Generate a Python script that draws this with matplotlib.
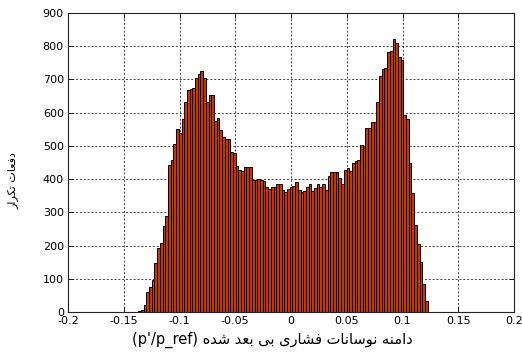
import numpy as np
import matplotlib
matplotlib.use("Agg")
import matplotlib.pyplot as plt

# Histogram of nondimensional pressure fluctuation amplitude (p'/p_ref)
bin_lo = -0.1370
bin_hi = 0.1226
counts = [
    2, 5, 21, 60, 74, 96, 148, 192, 208, 259,
    289, 442, 458, 506, 551, 540, 581, 631, 668, 671,
    673, 704, 716, 725, 703, 631, 653, 653, 576, 583,
    548, 526, 520, 522, 483, 478, 438, 428, 423, 436,
    436, 436, 398, 398, 400, 398, 393, 376, 369, 375,
    377, 384, 384, 367, 362, 370, 377, 380, 392, 367,
    362, 365, 375, 384, 364, 372, 384, 375, 384, 367,
    409, 422, 422, 422, 404, 385, 427, 432, 425, 449,
    455, 458, 503, 500, 553, 553, 571, 571, 633, 710,
    731, 733, 784, 787, 821, 809, 767, 759, 593, 580,
    448, 359, 262, 205, 151, 84, 34,
]
x_ticks = [-0.2, -0.15, -0.1, -0.05, 0, 0.05, 0.1, 0.15, 0.2]
x_tick_labels = ["-0.2", "-0.15", "-0.1", "-0.05", "0", "0.05", "0.1", "0.15", "0.2"]
y_ticks = [0, 100, 200, 300, 400, 500, 600, 700, 800, 900]

x_label_fa = "دامنه نوسانات فشاری بی بعد شده"
x_label_en = "(p'/p_ref)"
y_label_fa = "دفعات تکرار"

# Minimal Persian shaping: contextual presentation forms + visual (RTL) order
FORMS = {
    "ا": ("\uFE8D", "\uFE8E", None, None),
    "ب": ("\uFE8F", "\uFE90", "\uFE91", "\uFE92"),
    "ت": ("\uFE95", "\uFE96", "\uFE97", "\uFE98"),
    "د": ("\uFEA9", "\uFEAA", None, None),
    "ر": ("\uFEAD", "\uFEAE", None, None),
    "س": ("\uFEB1", "\uFEB2", "\uFEB3", "\uFEB4"),
    "ش": ("\uFEB5", "\uFEB6", "\uFEB7", "\uFEB8"),
    "ع": ("\uFEC9", "\uFECA", "\uFECB", "\uFECC"),
    "ف": ("\uFED1", "\uFED2", "\uFED3", "\uFED4"),
    "م": ("\uFEE1", "\uFEE2", "\uFEE3", "\uFEE4"),
    "ن": ("\uFEE5", "\uFEE6", "\uFEE7", "\uFEE8"),
    "ه": ("\uFEE9", "\uFEEA", "\uFEEB", "\uFEEC"),
    "و": ("\uFEED", "\uFEEE", None, None),
    "ی": ("\uFEEF", "\uFEF0", "\uFEF3", "\uFEF4"),
    "ک": ("\uFB8E", "\uFB8F", "\uFB90", "\uFB91"),
}


def shape_rtl(text):
    out = []
    for i, ch in enumerate(text):
        f = FORMS.get(ch)
        if f is None:
            out.append(ch)
            continue
        prev = text[i - 1] if i > 0 else ""
        nxt = text[i + 1] if i + 1 < len(text) else ""
        join_prev = prev in FORMS and FORMS[prev][2] is not None
        join_next = f[2] is not None and nxt in FORMS
        if join_prev and join_next:
            out.append(f[3])
        elif join_prev:
            out.append(f[1])
        elif join_next:
            out.append(f[2])
        else:
            out.append(f[0])
    return "".join(reversed(out))


plt.rcParams["font.family"] = ["DejaVu Sans"]

W, H = 522, 356
fig = plt.figure(figsize=(W / 100, H / 100), dpi=100)
ax = fig.add_axes([68 / W, 1 - 312 / H, (514 - 68) / W, (312 - 13) / H])

n = len(counts)
edges = np.linspace(bin_lo, bin_hi, n + 1)
ax.bar(edges[:-1], counts, width=np.diff(edges), align="edge",
       color="#CC3300", edgecolor="black", linewidth=0.7, zorder=2)

ax.set_xlim(-0.2, 0.2)
ax.set_ylim(0, 900)
ax.set_xticks(x_ticks)
ax.set_xticklabels(x_tick_labels)
ax.set_yticks(y_ticks)

ax.set_axisbelow(True)
ax.grid(True, color="#111111", linestyle=(0, (2.4, 2.2)), linewidth=0.6, alpha=0.9)

ax.tick_params(direction="in", length=3.5, width=0.6, top=True, right=True,
               labelsize=8, pad=3, colors="black")
for s in ax.spines.values():
    s.set_linewidth(0.8)
    s.set_color("#222222")

fig.text(272 / W, 1 - 340 / H, x_label_en + " " + shape_rtl(x_label_fa),
         ha="center", va="center", fontsize=10.5)
fig.text(14 / W, 1 - 181 / H, shape_rtl(y_label_fa),
         ha="center", va="center", rotation=90, fontsize=8)

fig.savefig("out.png", dpi=100)
